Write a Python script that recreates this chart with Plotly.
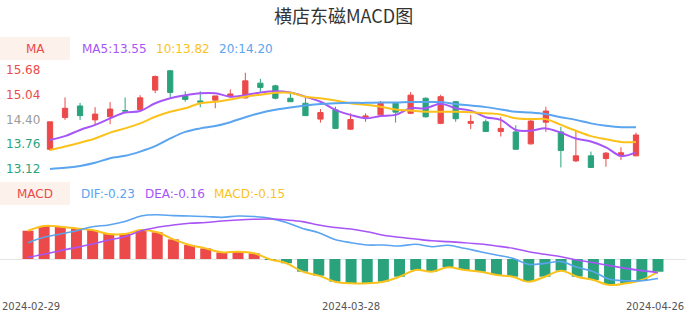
import plotly.graph_objects as go

# ---------------- data ----------------
dates = ["2024-02-29", "2024-03-01", "2024-03-04", "2024-03-05", "2024-03-06", "2024-03-07", "2024-03-08",
         "2024-03-11", "2024-03-12", "2024-03-13", "2024-03-14", "2024-03-15",
         "2024-03-18", "2024-03-19", "2024-03-20", "2024-03-21", "2024-03-22",
         "2024-03-25", "2024-03-26", "2024-03-27", "2024-03-28", "2024-03-29",
         "2024-04-01", "2024-04-02", "2024-04-03",
         "2024-04-08", "2024-04-09", "2024-04-10", "2024-04-11", "2024-04-12",
         "2024-04-15", "2024-04-16", "2024-04-17", "2024-04-18", "2024-04-19",
         "2024-04-22", "2024-04-23", "2024-04-24", "2024-04-25", "2024-04-26"]

opens = [13.63, 14.45, 14.75, 14.39, 14.47, 14.63, 14.66, 15.16, 15.66, 15.01, 14.88, 14.90, 14.99, 14.96, 15.34,
         15.27, 14.95, 14.82, 14.41, 14.65, 14.15, 14.46, 14.52, 14.82, 14.56, 14.95, 14.30, 14.86, 14.30, 14.34,
         14.09, 14.08, 13.77, 14.33, 14.08, 13.33, 13.46, 13.39, 13.46, 13.46]
closes = [14.34, 14.69, 14.50, 14.54, 14.67, 14.62, 14.96, 15.51, 15.10, 14.92, 14.85, 15.01, 15.06, 15.40, 15.23,
          14.95, 14.86, 14.50, 14.58, 14.17, 14.40, 14.49, 14.82, 14.59, 15.03, 14.47, 14.99, 14.42, 14.35, 14.09,
          14.17, 13.63, 14.36, 14.62, 13.60, 13.46, 13.16, 13.53, 13.54, 14.00]
highs = [14.34, 14.97, 14.83, 14.72, 14.85, 14.97, 15.03, 15.54, 15.68, 15.13, 15.13, 15.01, 15.18, 15.61, 15.45,
         15.30, 15.08, 14.96, 14.67, 14.73, 14.56, 14.56, 14.88, 14.84, 15.11, 14.97, 15.04, 14.88, 14.52, 14.40,
         14.47, 14.25, 14.38, 14.73, 14.21, 14.13, 13.57, 13.56, 13.68, 14.06]
lows = [13.59, 14.39, 14.39, 14.28, 14.28, 14.60, 14.66, 15.08, 14.97, 14.86, 14.72, 14.69, 14.97, 14.94, 15.12,
        14.92, 14.86, 14.50, 14.32, 14.15, 14.13, 14.34, 14.52, 14.32, 14.54, 14.45, 14.28, 14.34, 14.15, 14.08,
        13.96, 13.62, 13.75, 14.08, 13.16, 13.30, 13.15, 13.18, 13.35, 13.45]

ma5 = [13.87, 13.97, 14.13, 14.26, 14.43, 14.58, 14.62, 14.82, 14.95, 15.03, 15.08, 15.08, 14.99, 15.03, 15.10,
       15.13, 15.10, 14.99, 14.86, 14.65, 14.52, 14.43, 14.49, 14.52, 14.69, 14.69, 14.81, 14.69, 14.63, 14.46,
       14.39, 14.13, 14.11, 14.17, 14.06, 13.91, 13.83, 13.68, 13.46, 13.55]
ma10 = [13.61, 13.70, 13.80, 13.91, 14.06, 14.17, 14.30, 14.47, 14.60, 14.69, 14.82, 14.86, 14.92, 14.99, 15.04,
        15.09, 15.09, 14.99, 14.95, 14.89, 14.82, 14.78, 14.73, 14.66, 14.63, 14.60, 14.60, 14.60, 14.59, 14.56,
        14.53, 14.43, 14.41, 14.41, 14.26, 14.11, 13.97, 13.89, 13.82, 13.82]
ma20 = [13.12, 13.15, 13.20, 13.28, 13.40, 13.46, 13.57, 13.71, 13.91, 14.08, 14.17, 14.23, 14.33, 14.46, 14.57,
        14.65, 14.71, 14.76, 14.80, 14.82, 14.83, 14.83, 14.84, 14.84, 14.85, 14.85, 14.85, 14.80, 14.76, 14.72,
        14.66, 14.60, 14.58, 14.54, 14.46, 14.39, 14.30, 14.24, 14.20, 14.20]

macd_hist = [0.333, 0.388, 0.380, 0.360, 0.340, 0.294, 0.294, 0.340, 0.314, 0.231, 0.165, 0.125, 0.078, 0.086,
             0.067, -0.005, -0.050, -0.149, -0.196, -0.267, -0.286, -0.286, -0.267, -0.208, -0.129, -0.149, -0.098,
             -0.129, -0.149, -0.188, -0.208, -0.267, -0.208, -0.137, -0.208, -0.247, -0.306, -0.286, -0.247, -0.150]
dif = [0.192, 0.255, 0.294, 0.333, 0.380, 0.400, 0.440, 0.506, 0.520, 0.510, 0.506, 0.500, 0.490, 0.506, 0.500,
       0.478, 0.430, 0.360, 0.310, 0.230, 0.192, 0.165, 0.165, 0.153, 0.173, 0.145, 0.161, 0.126, 0.086, 0.047,
       0.008, -0.063, -0.051, -0.031, -0.098, -0.149, -0.239, -0.255, -0.255, -0.230]
dea = [0.020, 0.055, 0.098, 0.137, 0.176, 0.224, 0.263, 0.333, 0.373, 0.400, 0.420, 0.430, 0.447, 0.459, 0.467,
       0.470, 0.459, 0.440, 0.400, 0.370, 0.353, 0.320, 0.280, 0.255, 0.235, 0.215, 0.204, 0.192, 0.176, 0.153,
       0.126, 0.086, 0.055, 0.027, -0.012, -0.043, -0.078, -0.110, -0.137, -0.160]

price_ticks = [15.68, 15.04, 14.40, 13.76, 13.12]
price_tick_colors = ["#ec4a4a", "#ec4a4a", "#9a9a9a", "#2aa37d", "#2aa37d"]
x_tick_idx = [0, 20, 39]

title = "横店东磁MACD图"
ma_legend = [("MA5:13.55", "#a855f7", 80), ("10:13.82", "#fbc21b", 154), ("20:14.20", "#5aa4f0", 217)]
macd_legend = [("DIF:-0.23", "#5aa4f0", 79), ("DEA:-0.16", "#a855f7", 143), ("MACD:-0.15", "#fbc21b", 212)]

# ---------------- style ----------------
RED = "#ec4a4a"
GREEN = "#2aa37d"
W, H = 686, 320
FONT = "DejaVu Sans"
idx = list(range(len(dates)))

fig = go.Figure()

fig.add_trace(go.Candlestick(
    x=idx, open=opens, high=highs, low=lows, close=closes,
    increasing=dict(line=dict(color=RED, width=1), fillcolor=RED),
    decreasing=dict(line=dict(color=GREEN, width=1), fillcolor=GREEN),
    whiskerwidth=0, xaxis="x", yaxis="y", showlegend=False, hoverinfo="skip"))

for vals, col in [(ma5, "#a855f7"), (ma10, "#fbc21b"), (ma20, "#5aa4f0")]:
    fig.add_trace(go.Scatter(x=idx, y=vals, mode="lines", line=dict(color=col, width=2, shape="spline"),
                             xaxis="x", yaxis="y", showlegend=False, hoverinfo="skip"))

fig.add_trace(go.Bar(x=idx, y=macd_hist, marker=dict(color=[RED if v >= 0 else GREEN for v in macd_hist], line=dict(width=0)),
                     width=0.68, xaxis="x2", yaxis="y2", showlegend=False, hoverinfo="skip"))
fig.add_trace(go.Scatter(x=idx, y=macd_hist, mode="lines", line=dict(color="#fbc21b", width=2, shape="spline"),
                         xaxis="x2", yaxis="y2", showlegend=False, hoverinfo="skip"))
fig.add_trace(go.Scatter(x=idx, y=dif, mode="lines", line=dict(color="#5aa4f0", width=1.6, shape="spline"),
                         xaxis="x2", yaxis="y2", showlegend=False, hoverinfo="skip"))
fig.add_trace(go.Scatter(x=idx, y=dea, mode="lines", line=dict(color="#a855f7", width=1.6, shape="spline"),
                         xaxis="x2", yaxis="y2", showlegend=False, hoverinfo="skip"))

# pixel-based placement helpers
def py(p):
    return 1 - p / H

# candle panel: index 0 at x=50px, index 39 at x=636px
k1 = (636 - 50) / 39
r0 = -50 / k1
# macd panel: index 0 at x=28px, index 39 at x=658px
k2 = (658 - 28) / 39
s0 = -28 / k2

# price axis: 13.12 -> y=169px, 15.68 -> y=70px
ppu = (169 - 70) / (15.68 - 13.12)
top1, bot1 = 60, 182
yr1 = [13.12 - (bot1 - 169) / ppu, 13.12 + (169 - top1) / ppu]
# macd axis: zero at 259px, 85 px per unit
top2, bot2 = 210, 292
yr2 = [-(bot2 - 259) / 85, (259 - top2) / 85]

fig.update_layout(
    width=W, height=H, margin=dict(l=0, r=0, t=0, b=0),
    paper_bgcolor="white", plot_bgcolor="white",
    boxgap=0.5,
    font=dict(family=FONT, size=12, color="#333"),
    xaxis=dict(domain=[0, 1], range=[r0, r0 + W / k1], showgrid=False, zeroline=False, showticklabels=False,
               rangeslider=dict(visible=False), fixedrange=True, anchor="y"),
    yaxis=dict(domain=[py(bot1), py(top1)], range=yr1, showgrid=False, zeroline=False, showticklabels=False,
               anchor="x"),
    xaxis2=dict(domain=[0, 1], range=[s0, s0 + W / k2], showgrid=False, zeroline=False, anchor="y2",
                showticklabels=False, ticks=""),
    yaxis2=dict(domain=[py(bot2), py(top2)], range=yr2, showgrid=False, zeroline=True, zerolinecolor="#e6e6e6",
                zerolinewidth=1, showticklabels=False, anchor="x2"),
)

ann = []
ann.append(dict(text=title, x=0.5, y=py(15), xref="paper", yref="paper", xanchor="center", yanchor="middle",
                showarrow=False, font=dict(family="Noto Sans CJK SC, " + FONT, size=18, color="#333")))
for v, c in zip(price_ticks, price_tick_colors):
    ann.append(dict(text=f"{v:.2f}", x=42 / W, y=v, xref="paper", yref="y", xanchor="right", yanchor="middle",
                    showarrow=False, font=dict(family=FONT, size=12, color=c)))
# date labels under the MACD panel, placed on the x2 axis scale (edge labels kept inside the page)
for n, i in enumerate(x_tick_idx):
    anchor, shift = "center", 0
    if n == 0:
        anchor, shift = "left", -28
    elif n == len(x_tick_idx) - 1:
        anchor, shift = "right", 28
    ann.append(dict(text=dates[i], x=i, y=py(306), xref="x2", yref="paper", xanchor=anchor, yanchor="middle",
                    xshift=shift, showarrow=False, font=dict(family=FONT, size=10, color="#555")))

shapes = []
for label, yc, items in [("MA", 48.5, ma_legend), ("MACD", 193.5, macd_legend)]:
    shapes.append(dict(type="rect", xref="paper", yref="paper", x0=0, x1=70 / W, y0=py(yc + 11.5), y1=py(yc - 11.5),
                       fillcolor="#fdf1ec", line=dict(width=0), layer="below"))
    ann.append(dict(text=label, x=35 / W, y=py(yc), xref="paper", yref="paper", xanchor="center", yanchor="middle",
                    showarrow=False, font=dict(family=FONT, size=12, color="#ec4a4a")))
    for txt, col, xl in items:
        ann.append(dict(text=txt, x=xl / W, y=py(yc), xref="paper", yref="paper", xanchor="left", yanchor="middle",
                        showarrow=False, font=dict(family=FONT, size=12, color=col)))

fig.update_layout(annotations=ann, shapes=shapes)
fig.write_html("out.html")
